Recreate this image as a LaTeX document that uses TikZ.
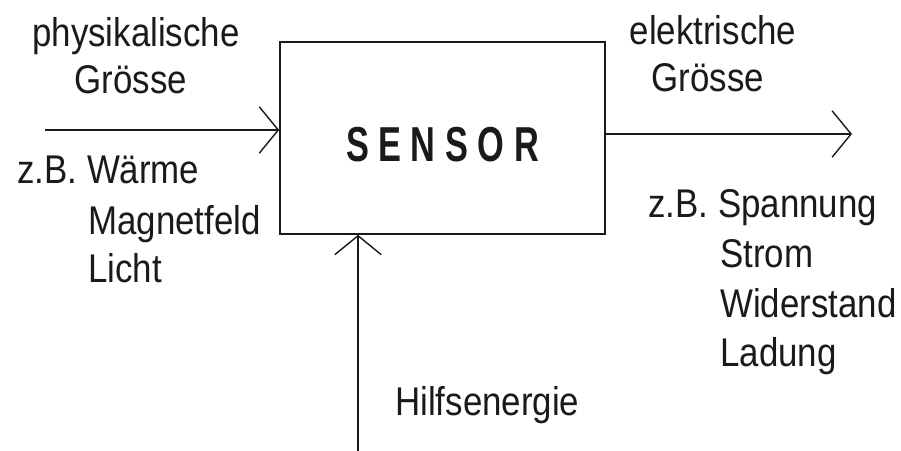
\documentclass[tikz,border=0pt]{standalone}
\usepackage{fontspec}
\setmainfont{Liberation Sans}[FakeStretch=0.87]
\newfontfamily\sensorfont{Liberation Sans}[FakeStretch=0.7]
\usepackage{tikz}
\usetikzlibrary{arrows.meta,positioning}
\definecolor{sink}{HTML}{1A1A1A}
\tikzset{
  >={Straight Barb[length=13.5pt, width=33pt, line width=1pt]},
  sbox/.style={draw=sink, line width=1.1pt, minimum width=8.125cm, minimum height=4.8cm,
               font=\sensorfont\bfseries\fontsize{34.9}{40}\selectfont, text=sink,
               text height=34pt, inner sep=0pt},
  sarrow/.style={->, draw=sink, line width=1pt},
  slbl/.style={font=\fontsize{28.5}{34}\selectfont, text=sink, inner sep=0pt, anchor=base west},
  sctr/.style={font=\fontsize{28.5}{34}\selectfont, text=sink, inner sep=0pt, anchor=base},
}
\begin{document}
\begin{tikzpicture}[x=0.025cm,y=-0.025cm]
  \useasboundingbox (0,0) rectangle (901,451);

  \node[sbox] (sensor) at (442.5,138) {S E N S O R};

  % eingang, ausgang, hilfsenergie
  \coordinate (ein) at (45,130);
  \coordinate (aus) at (852,134);
  \coordinate (hilf) at (358,451);
  \draw[sarrow] (ein) -- (ein -| sensor.west);
  \draw[sarrow] (aus -| sensor.east) -- (aus);
  \draw[sarrow] (hilf) -- (hilf |- sensor.south);

  \node[sctr] (phys) at (136,47) {physikalische};
  \node[sctr] (physg) at (131,94) {Grösse};
  \node[slbl] (wae) at (17,184) {z.B. Wärme};
  \node[slbl] (mag) at (88,235) {Magnetfeld};
  \node[slbl] (lic) at (88,283) {Licht};

  \node[sctr] (elek) at (713,45) {elektrische};
  \node[sctr] (elekg) at (708,92) {Grösse};
  \node[slbl] (spa) at (648,218) {z.B. Spannung};
  \node[slbl] (str) at (720,268) {Strom};
  \node[slbl] (wid) at (720,318) {Widerstand};
  \node[slbl] (lad) at (720,367) {Ladung};

  \node[slbl] (hil) at (395,416) {Hilfsenergie};
\end{tikzpicture}
\end{document}
